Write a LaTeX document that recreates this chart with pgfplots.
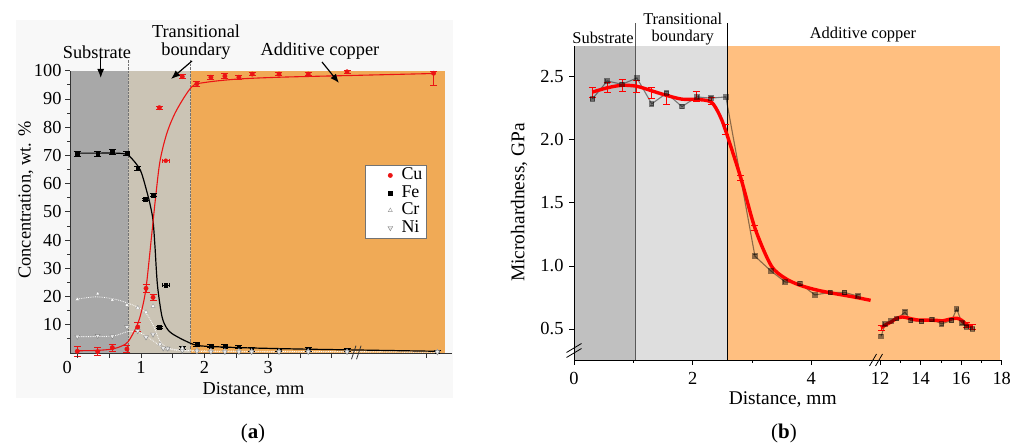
\documentclass[border=0pt]{standalone}
\usepackage{fontspec}
\setmainfont{Liberation Serif}
\usepackage{pgfplots}
\usepackage{pgfplotstable}
\pgfplotsset{compat=1.18}
\usetikzlibrary{arrows.meta}
\definecolor{subA}{RGB}{168,168,168}
\definecolor{tanA}{RGB}{203,196,181}
\definecolor{orA}{RGB}{240,170,86}
\definecolor{subB}{RGB}{192,192,192}
\definecolor{tranB}{RGB}{222,222,222}
\definecolor{orB}{RGB}{255,191,128}
\definecolor{bgA}{RGB}{248,248,248}
\definecolor{cuRed}{RGB}{235,20,20}

% ---------- panel (a) data ----------
\pgfplotstableread{
x y ep em
0.00 0.6 1.8 1.8
0.32 0.5 1.5 1.5
0.55 1.9 1.3 1.3
0.78 1.4 1.3 1.3
0.95 9.2 1.5 1.5
1.08 22.9 1.5 1.5
1.19 19.7 1.2 1.2
1.29 86.9 0.5 0.5
1.65 97.9 0.8 0.8
1.88 95.4 0.8 0.8
2.10 97.7 0.8 0.8
2.32 98.1 0.8 0.8
2.54 97.7 0.8 0.8
2.75 98.8 0.6 0.6
3.17 98.8 0.6 0.6
3.63 98.8 0.5 0.5
4.24 99.6 0.6 0.6
5.60 99.1 0.8 4.2
}\cuData
\pgfplotstableread{
x y e
0.00 70.6 0.8
0.32 70.5 0.8
0.55 71.2 0.8
0.78 70.8 0.7
0.95 65.4 0.8
1.07 54.4 0.5
1.19 56.0 0.5
1.29 9.1 0.4
1.65 1.9 0.5
1.88 3.2 0.7
2.10 2.5 0.6
2.32 2.5 0.6
2.54 2.2 0.6
2.74 1.3 0.6
3.17 1.1 0.6
3.63 1.3 0.6
4.24 1.1 0.6
5.66 0.5 0.5
}\feData
\pgfplotstableread{
x y
0.00 19.1
0.32 21.0
0.55 18.8
0.78 17.0
0.95 16.0
1.08 14.5
1.19 16.6
1.30 3.2
1.42 1.4
1.65 1.7
1.88 1.1
2.10 0.9
2.32 0.8
2.54 0.8
2.74 0.7
3.17 0.7
3.63 0.7
4.24 0.6
5.66 0.5
}\crData
\pgfplotstableread{
x y
0.00 5.8
0.32 6.1
0.55 5.9
0.78 9.2
0.95 7.8
1.08 5.6
1.19 6.6
1.35 1.7
1.42 1.6
1.65 0.9
1.88 0.6
2.10 0.5
2.32 0.4
2.54 0.4
2.74 0.4
3.17 0.4
3.63 0.4
4.24 0.4
5.66 0.3
}\niData

% ---------- panel (b) data ----------
\pgfplotstableread{
x y
0.31 2.324
0.56 2.466
0.81 2.440
1.06 2.490
1.31 2.285
1.56 2.369
1.82 2.263
2.07 2.340
2.31 2.330
2.56 2.340
3.05 1.077
3.32 0.960
3.56 0.873
3.81 0.860
4.06 0.770
4.32 0.790
4.56 0.790
4.79 0.760
}\hvLeft
\pgfplotstableread{
x y
12.05 0.442
12.25 0.541
12.54 0.562
12.82 0.581
13.23 0.633
13.51 0.567
14.05 0.559
14.55 0.575
15.04 0.541
15.53 0.567
15.78 0.660
16.03 0.549
16.27 0.514
16.55 0.500
}\hvRight
\pgfplotstableread{
x y
0.31 2.378
0.56 2.412
0.81 2.432
1.06 2.424
1.31 2.388
1.56 2.352
1.82 2.322
2.06 2.320
2.31 2.300
2.45 2.200
2.55 2.080
2.81 1.700
3.05 1.300
3.32 1.005
3.55 0.905
3.80 0.848
4.10 0.808
4.40 0.780
4.70 0.755
5.00 0.727
}\fitLeft
\pgfplotstableread{
x y
12.05 0.510
12.30 0.535
12.55 0.556
12.80 0.583
13.10 0.595
13.40 0.586
13.80 0.572
14.30 0.570
14.80 0.568
15.10 0.565
15.50 0.580
15.80 0.585
16.05 0.566
16.25 0.536
16.55 0.520
}\fitRight
\pgfplotstableread{
x y e
0.31 2.378 0.040
0.56 2.412 0.040
0.81 2.432 0.045
1.06 2.424 0.050
1.31 2.372 0.040
1.56 2.322 0.040
2.06 2.347 0.040
2.31 2.308 0.030
2.55 2.080 0.040
2.81 1.700 0.020
3.05 1.300 0.020
12.05 0.510 0.020
16.25 0.536 0.020
16.55 0.520 0.020
}\errB

\begin{document}
\begin{tikzpicture}
\begin{scope}[x=1bp,y=1bp]
\path[use as bounding box] (0,0) rectangle (1022,448);
\fill[bgA] (16,50) rectangle (453,428);
\end{scope}

% ================= panel (a) =================
\begin{axis}[
  at={(70bp,95bp)}, anchor=south west, scale only axis,
  width=382bp, height=282.3bp,
  xmin=-0.115, xmax=5.89, ymin=0, ymax=100,
  axis x line*=bottom, axis y line*=left,
  axis line style={black!80, line width=0.8bp},
  clip=false, axis on top,
  tick align=outside, major tick length=5bp, minor tick length=3bp,
  tick style={black!80, line width=0.8bp},
  ytick={10,20,...,100}, minor ytick={5,15,...,95},
  xtick={0,0.5,1,1.5,2,2.5,3,3.5,4,5.49},
  xticklabels={{\makebox[0pt]{\hspace*{-20bp}0}},,1,,2,,3,,,},
  /pgf/number format/assume math mode=true,
  tick label style={font=\fontsize{18.4}{20}\selectfont},
  legend style={at={(0.772,0.666)}, anchor=north west, draw=black!55, fill=white,
    font=\fontsize{18}{20}\selectfont, row sep=1bp, inner xsep=2bp, inner ysep=2bp,
    nodes={inner xsep=2bp, inner ysep=0bp, text height=12.5bp, text depth=4bp}},
  legend image code/.code={\path (0bp,0bp) (32bp,0bp); \draw[#1] plot coordinates {(23bp,0bp)};},
  legend cell align=left,
]
\fill[subA] (axis cs:-0.115,0) rectangle (axis cs:0.80,100);
\fill[tanA] (axis cs:0.80,0) rectangle (axis cs:1.78,100);
\fill[orA] (axis cs:1.78,0) rectangle (axis cs:5.78,100);
\draw[densely dotted, black!55] (axis cs:0.80,0) -- (axis cs:0.80,104);
\draw[densely dotted, black!55] (axis cs:1.78,0) -- (axis cs:1.78,104);

% fitted curves
\addplot[white, densely dotted, line width=0.8bp, smooth, forget plot] coordinates {
(0,19.1) (0.3,19.9) (0.6,19.0) (0.85,17.2) (1.0,15.6) (1.1,13.5) (1.2,9.5) (1.3,4.2) (1.45,1.6) (1.9,0.8) (3,0.6) (5.66,0.4)};
\addplot[white, densely dotted, line width=0.8bp, smooth, forget plot] coordinates {
(0,5.8) (0.55,6.0) (0.8,7.6) (1.0,7.0) (1.2,4.2) (1.4,1.5) (1.9,0.6) (3,0.4) (5.66,0.3)};
\addplot[black, line width=1.2bp, smooth, forget plot] coordinates {
(0,70.8) (0.3,70.8) (0.6,70.8) (0.75,70.5) (0.83,69.5) (0.99,64.8) (1.10,56.6) (1.15,52) (1.19,47) (1.22,38) (1.26,24) (1.33,13) (1.40,9) (1.48,7) (1.67,4.6) (1.88,2.7) (2.2,2.2) (2.7,1.8) (3.5,1.4) (4.3,1.1) (5.66,0.6)};
\addplot[cuRed, line width=1.1bp, smooth, forget plot] coordinates {
(0,0.8) (0.3,0.9) (0.55,1.4) (0.7,2.5) (0.8,4) (0.93,9.3) (1.0,14) (1.08,23) (1.17,42) (1.23,55) (1.30,68) (1.41,78) (1.56,86) (1.80,94.3) (2.0,95.8) (2.5,97) (3.2,97.7) (4.3,98.3) (5.6,99)};

% data points
\addplot[only marks, mark=*, mark size=2.2bp, color=cuRed,
  error bars/.cd, y dir=both, y explicit,
  error bar style={cuRed, line width=0.8bp},
  error mark options={cuRed, mark size=3.5bp, line width=0.8bp, rotate=90}]
  table[x=x, y=y, y error plus=ep, y error minus=em] {\cuData};
\addlegendentry{Cu}
\addplot[only marks, mark=square*, mark size=1.8bp, color=black,
  error bars/.cd, y dir=both, y explicit,
  error bar style={black, line width=0.8bp},
  error mark options={black, mark size=3.5bp, line width=0.8bp, rotate=90}]
  table[x=x, y=y, y error=e] {\feData};
\addlegendentry{Fe}
\addplot[only marks, mark=triangle*, mark size=2.4bp, draw=black!40, fill=white]
  table[x=x, y=y] {\crData};
\addlegendentry{Cr}
\addplot[only marks, mark=triangle*, mark size=2.8bp, mark options={rotate=180, draw=black!50, fill=white!92!black}]
  table[x=x, y=y] {\niData};
\addlegendentry{Ni}

% horizontal error bars
\addplot[only marks, mark=*, mark size=2.0bp, color=cuRed, forget plot,
  error bars/.cd, x dir=both, x fixed=0.05,
  error bar style={cuRed, line width=0.8bp},
  error mark options={cuRed, mark size=2bp, line width=0.8bp, rotate=90}]
  coordinates {(1.39,68.1)};
\addplot[only marks, mark=square*, mark size=1.8bp, color=black, forget plot,
  error bars/.cd, x dir=both, x fixed=0.05,
  error bar style={black, line width=0.8bp},
  error mark options={black, mark size=2bp, line width=0.8bp, rotate=90}]
  coordinates {(1.39,24.1)};

% axis break
\draw[black!80, line width=0.8bp] (axis cs:4.31,-2.2) -- (axis cs:4.38,2.6);
\draw[black!80, line width=0.8bp] (axis cs:4.39,-2.2) -- (axis cs:4.46,2.6);
\end{axis}

% ================= panel (b) =================
\begin{axis}[
  at={(574bp,88bp)}, anchor=south west, scale only axis,
  width=427.7bp, height=314.3bp,
  x coord trafo/.code={\pgfmathparse{ifthenelse(#1>8,5.16+(#1-12)*0.3417,#1)}},
  xmin=0, xmax=18, ymin=0.254, ymax=2.746,
  axis x line*=bottom, axis y line*=left,
  axis line style={black, line width=0.8bp},
  clip=false, axis on top,
  tick align=outside, major tick length=5bp, minor tick length=3bp,
  tick style={black, line width=0.8bp},
  xtick={0,2,4,12,14,16,18}, xticklabels={0,2,4,12,14,16,18},
  minor xtick={1,3,13,15,17},
  ytick={0.5,1,1.5,2,2.5},
  yticklabel style={/pgf/number format/.cd, fixed, fixed zerofill, precision=1},
  /pgf/number format/assume math mode=true,
  tick label style={font=\fontsize{18.5}{20}\selectfont},
  xticklabel shift=4bp, yticklabel shift=2bp,
]
\fill[subB] (axis cs:0,0.254) rectangle (axis cs:1.04,2.746);
\fill[tranB] (axis cs:1.04,0.254) rectangle (axis cs:2.59,2.746);
\fill[orB] (axis cs:2.59,0.254) rectangle (rel axis cs:0.996,1);
\draw[black!65, line width=1.3bp] (axis cs:1.04,0.254) -- (axis cs:1.04,2.928);
\draw[black, line width=0.9bp] (axis cs:2.59,0.254) -- (axis cs:2.59,2.928);

\addplot[black, opacity=0.45, line width=1.1bp, mark=square*, mark size=2.2bp] table[x=x,y=y] {\hvLeft};
\addplot[black, opacity=0.45, line width=1.1bp, mark=square*, mark size=2.2bp] table[x=x,y=y] {\hvRight};
\addplot[red, line width=3.4bp, smooth, tension=0.5] table[x=x,y=y] {\fitLeft};
\addplot[red, line width=3.4bp, smooth, tension=0.5] table[x=x,y=y] {\fitRight};
\addplot[draw=none, mark=none,
  error bars/.cd, y dir=both, y explicit,
  error bar style={draw=red, solid, line width=0.8bp},
  error mark options={draw=red, mark size=3.5bp, line width=0.8bp, rotate=90}]
  table[x=x, y=y, y error=e] {\errB};
\end{axis}

\begin{scope}[x=1bp,y=1bp]
\node[font=\fontsize{18.4}{20}\selectfont] at (97,396) {Substrate};
\draw[line width=1.2bp, -{Latex[length=9bp,width=7bp]}] (100.7,391) -- (100.7,370);
\node[font=\fontsize{18.4}{20}\selectfont, align=center] at (196,406) {Transitional\\[-2bp]boundary};
\draw[line width=1.2bp, -{Latex[length=9bp,width=7bp]}] (192,387) -- (171,369);
\node[font=\fontsize{18.4}{20}\selectfont] at (320,397) {Additive copper};
\draw[line width=1.2bp, -{Latex[length=9bp,width=7bp]}] (322,386) -- (339,365);
\node[font=\fontsize{18.4}{20}\selectfont] at (253.5,58) {Distance, mm};
\node[font=\fontsize{18.4}{20}\selectfont, rotate=90] at (26,248) {Concentration, wt. \%};
\node[font=\fontsize{21}{24}\selectfont] at (253,15) {(\textbf{a})};

% axis breaks (b)
\draw[black, line width=0.8bp] (566.5,90.5) -- (581.5,99.5);
\draw[black, line width=0.8bp] (566.5,95.5) -- (581.5,104.5);
\draw[black, line width=0.8bp] (869.5,82) -- (876.5,94);
\draw[black, line width=0.8bp] (875.5,82) -- (882.5,94);

\node[font=\fontsize{16.5}{19}\selectfont] at (603,410) {Substrate};
\node[font=\fontsize{16.5}{19}\selectfont, align=center] at (682.7,419) {Transitional\\[-2bp]boundary};
\node[font=\fontsize{16.5}{19}\selectfont] at (863,413) {Additive copper};
\node[font=\fontsize{19.5}{22}\selectfont] at (782.7,48) {Distance, mm};
\node[font=\fontsize{19.5}{22}\selectfont, rotate=90] at (519,245.5) {Microhardness, GPa};
\node[font=\fontsize{21}{24}\selectfont] at (784,15) {(\textbf{b})};
\end{scope}
\end{tikzpicture}
\end{document}
